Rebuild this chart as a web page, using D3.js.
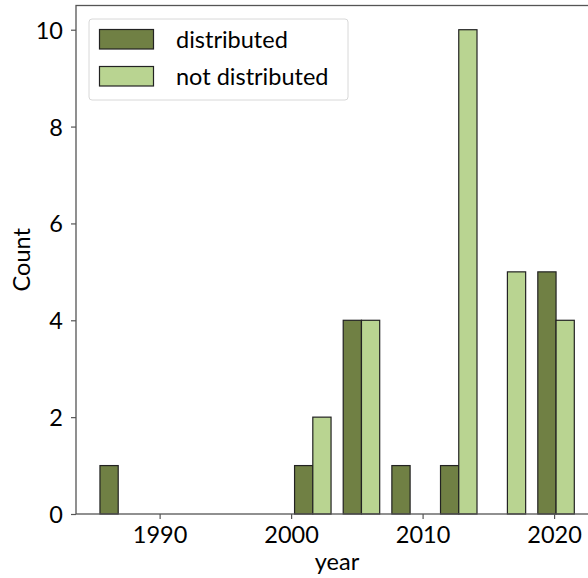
<!DOCTYPE html>
<html><head><meta charset="utf-8">
<script src="https://cdn.jsdelivr.net/npm/d3@7"></script>
<style>
html,body{margin:0;padding:0;background:#fff;}
svg{display:block;}
text{font-family:Lato,"Open Sans",sans-serif;fill:#000;}
</style></head>
<body>
<script>
// Histogram bins (year edges), counts per hue
const binEdges = [1985, 1988.7, 1992.4, 1996.1, 1999.8, 2003.5, 2007.2, 2010.9, 2014.6, 2018.3, 2022];
const distributed = [1, 0, 0, 0, 1, 4, 1, 1, 0, 5];
const notDistributed = [0, 0, 0, 0, 2, 4, 0, 10, 5, 4];
const seriesNames = ["distributed", "not distributed"];
const seriesColors = ["#708044", "#b9d491"];
const xTicks = [1990, 2000, 2010, 2020];
const yTicks = [0, 2, 4, 6, 8, 10];

const W = 588, H = 578;
const mLeft = 76, mRight = 598, mTop = 5.5, mBottom = 514;
const shrink = 0.75;
const fs = "23.5px";

const svg = d3.select("body").append("svg").attr("width", W).attr("height", H);

const x = d3.scaleLinear().domain([1983.64, 2023.34]).range([mLeft, mRight]);
const y = d3.scaleLinear().domain([0, 10.5]).range([mBottom, mTop]);

const series = [distributed, notDistributed];
const bars = [];
for (let i = 0; i < binEdges.length - 1; i++) {
  const b0 = binEdges[i], b1 = binEdges[i + 1];
  const w = (b1 - b0) * shrink / 2;
  const start = b0 + (b1 - b0) * (1 - shrink) / 2;
  series.forEach((s, k) => {
    if (s[i] > 0) bars.push({x0: start + k * w, x1: start + (k + 1) * w, v: s[i], k});
  });
}

svg.append("g").selectAll("rect").data(bars).join("rect")
  .attr("x", d => x(d.x0))
  .attr("width", d => x(d.x1) - x(d.x0))
  .attr("y", d => y(d.v))
  .attr("height", d => y(0) - y(d.v))
  .attr("fill", d => seriesColors[d.k])
  .attr("stroke", "#222")
  .attr("stroke-width", 1.2);

// axes
const axisColor = "#555";
const gx = svg.append("g").attr("transform", `translate(0,${mBottom})`)
  .call(d3.axisBottom(x).tickValues(xTicks).tickFormat(d3.format("d")).tickSize(5).tickPadding(7));
const gy = svg.append("g").attr("transform", `translate(${mLeft},0)`)
  .call(d3.axisLeft(y).tickValues(yTicks).tickFormat(d3.format("d")).tickSize(5).tickPadding(8));
[gx, gy].forEach(g => {
  g.select(".domain").remove();
  g.selectAll(".tick line").attr("stroke", axisColor).attr("stroke-width", 1.2);
  g.selectAll(".tick text").style("font-size", fs).attr("fill", "#000").style("font-family", "Lato, sans-serif");
});
gy.selectAll(".tick text").attr("dy", "0.36em");

// spines
svg.append("rect").attr("x", mLeft).attr("y", mTop).attr("width", mRight - mLeft).attr("height", mBottom - mTop)
  .attr("fill", "none").attr("stroke", axisColor).attr("stroke-width", 1.3);

// axis labels
svg.append("text").attr("x", (mLeft + mRight) / 2).attr("y", 570).attr("text-anchor", "middle")
  .style("font-size", fs).text("year");
svg.append("text").attr("transform", `translate(30,${(mTop + mBottom) / 2}) rotate(-90)`).attr("text-anchor", "middle")
  .style("font-size", fs).text("Count");

// legend
const lg = svg.append("g");
lg.append("rect").attr("x", 89).attr("y", 19).attr("width", 259).attr("height", 81).attr("rx", 3)
  .attr("fill", "#fff").attr("fill-opacity", 0.8).attr("stroke", "#d8d8d8").attr("stroke-width", 1);
seriesNames.forEach((n, k) => {
  lg.append("rect").attr("x", 99.5).attr("y", 29.5 + k * 37).attr("width", 54).attr("height", 19.5)
    .attr("fill", seriesColors[k]).attr("stroke", "#222").attr("stroke-width", 1.2);
  lg.append("text").attr("x", 176).attr("y", 48 + k * 37).style("font-size", fs).text(n);
});
</script>
</body></html>
